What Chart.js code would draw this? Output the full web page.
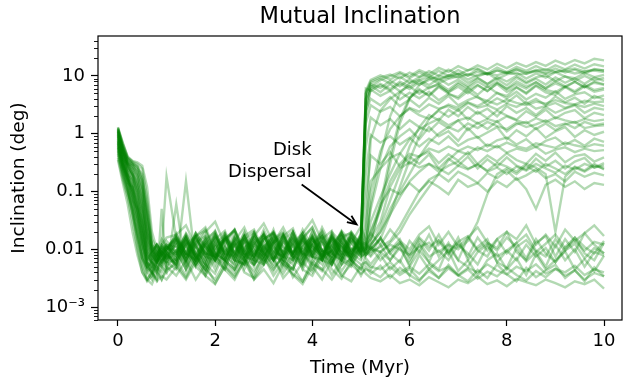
<!DOCTYPE html>
<html lang="en">
<head>
<meta charset="UTF-8">
<title>Mutual Inclination</title>
<script src="https://cdn.jsdelivr.net/npm/chart.js"></script>
<style>
  html, body { margin: 0; padding: 0; background: #fff; }
</style>
</head>
<body>
<canvas id="inclChart" width="624" height="384"></canvas>
<script>
// sample times (Myr), shared by every run
const times = [0, 0.1, 0.2, 0.3, 0.4, 0.5, 0.6, 0.7, 0.8, 0.9, 1.0,
  1.2, 1.4, 1.6, 1.8, 2.0, 2.2, 2.4, 2.6, 2.8, 3.0, 3.2, 3.4, 3.6, 3.8, 4.0, 4.2, 4.4, 4.6, 4.8, 5.0,
  5.1,
  5.2, 5.4, 5.6, 5.8, 6.0, 6.2, 6.4, 6.6, 6.8, 7.0, 7.2, 7.4, 7.6, 7.8, 8.0, 8.2, 8.4, 8.6, 8.8, 9.0, 9.2, 9.4, 9.6, 9.8, 10.0];

// runs that stay near 0.01 deg (or below) after dispersal
const lowRuns = [
  [0.9, 0.45, 0.22, 0.14, 0.07, 0.025, 0.009, 0.006, 0.008, 0.011, 0.009,
   0.014, 0.006, 0.016, 0.008, 0.02, 0.007, 0.012, 0.0055, 0.015, 0.009, 0.022, 0.0075, 0.013, 0.006, 0.017, 0.0085, 0.012, 0.0065, 0.018, 0.01,
   0.011,
   0.008, 0.016, 0.0085, 0.006, 0.014, 0.009, 0.018, 0.0075, 0.013, 0.0065, 0.016, 0.0095, 0.0075, 0.015, 0.02, 0.009, 0.0065, 0.013, 0.017, 0.0075, 0.015, 0.009, 0.019, 0.012, 0.0085],
  [1.1, 0.55, 0.3, 0.28, 0.2, 0.09, 0.015, 0.005, 0.004, 0.006, 0.008,
   0.006, 0.012, 0.005, 0.01, 0.016, 0.0065, 0.0045, 0.011, 0.014, 0.006, 0.009, 0.017, 0.007, 0.005, 0.012, 0.008, 0.015, 0.0055, 0.01, 0.013,
   0.008,
   0.011, 0.0065, 0.0095, 0.015, 0.0065, 0.012, 0.006, 0.014, 0.008, 0.016, 0.0065, 0.011, 0.015, 0.006, 0.0095, 0.013, 0.007, 0.015, 0.0085, 0.006, 0.011, 0.016, 0.0085, 0.0065, 0.013],
  [0.6, 0.28, 0.18, 0.09, 0.035, 0.012, 0.006, 0.009, 0.007, 0.012, 0.016,
   0.018, 0.026, 0.011, 0.02, 0.03, 0.012, 0.022, 0.01, 0.017, 0.028, 0.013, 0.024, 0.011, 0.019, 0.032, 0.014, 0.01, 0.021, 0.013, 0.025,
   0.014,
   0.019, 0.012, 0.022, 0.014, 0.01, 0.018, 0.025, 0.012, 0.02, 0.011, 0.016, 0.024, 0.013, 0.0105, 0.02, 0.015, 0.026, 0.012, 0.018, 0.011, 0.022, 0.014, 0.019, 0.026, 0.017],
  [0.75, 0.32, 0.16, 0.08, 0.03, 0.009, 0.004, 0.003, 0.005, 0.004, 0.006,
   0.0045, 0.009, 0.005, 0.0035, 0.011, 0.006, 0.004, 0.0095, 0.005, 0.012, 0.0065, 0.0038, 0.007, 0.01, 0.0045, 0.008, 0.0036, 0.0065, 0.005, 0.01,
   0.007,
   0.0055, 0.009, 0.0065, 0.012, 0.005, 0.0095, 0.006, 0.0045, 0.011, 0.0065, 0.005, 0.009, 0.012, 0.006, 0.0048, 0.0105, 0.0062, 0.009, 0.005, 0.012, 0.0065, 0.01, 0.005, 0.009, 0.0078],
  [1.3, 0.7, 0.4, 0.32, 0.28, 0.15, 0.03, 0.008, 0.012, 0.009, 0.014,
   0.009, 0.016, 0.007, 0.013, 0.021, 0.008, 0.014, 0.0065, 0.018, 0.011, 0.0065, 0.015, 0.02, 0.008, 0.016, 0.007, 0.012, 0.019, 0.0085, 0.014,
   0.012,
   0.01, 0.016, 0.0085, 0.013, 0.0075, 0.015, 0.0095, 0.018, 0.0085, 0.013, 0.0075, 0.016, 0.0095, 0.015, 0.0085, 0.013, 0.018, 0.0095, 0.0075, 0.015, 0.0095, 0.016, 0.011, 0.0085, 0.014],
  [0.45, 0.2, 0.1, 0.05, 0.015, 0.006, 0.003, 0.004, 0.003, 0.05, 0.004,
   0.0065, 0.0035, 0.008, 0.0045, 0.003, 0.006, 0.0095, 0.004, 0.0032, 0.007, 0.0042, 0.0085, 0.0033, 0.006, 0.004, 0.0095, 0.0045, 0.0031, 0.0065, 0.0045,
   0.006,
   0.0045, 0.008, 0.0045, 0.0065, 0.0035, 0.008, 0.0045, 0.0065, 0.0095, 0.0042, 0.0065, 0.0035, 0.0065, 0.0085, 0.0045, 0.007, 0.0036, 0.0082, 0.0045, 0.0065, 0.0092, 0.0045, 0.0068, 0.0042, 0.0078],
  [0.55, 0.25, 0.12, 0.04, 0.012, 0.005, 0.003, 0.0025, 0.004, 0.003, 0.005,
   0.0035, 0.0065, 0.003, 0.0055, 0.0026, 0.005, 0.0035, 0.007, 0.003, 0.0055, 0.0075, 0.0032, 0.005, 0.0028, 0.0065, 0.0045, 0.003, 0.0055, 0.0068, 0.0035,
   0.005,
   0.0038, 0.0052, 0.0032, 0.0048, 0.0036, 0.0028, 0.0047, 0.0032, 0.0054, 0.0036, 0.0028, 0.0044, 0.0032, 0.0055, 0.0037, 0.0028, 0.0048, 0.0033, 0.0043, 0.0054, 0.0032, 0.0044, 0.0028, 0.0049, 0.0034],
  [0.35, 0.14, 0.06, 0.02, 0.008, 0.004, 0.003, 0.004, 0.0028, 0.0035, 0.003,
   0.005, 0.003, 0.006, 0.0035, 0.0025, 0.0052, 0.0033, 0.0062, 0.003, 0.0045, 0.0026, 0.0055, 0.0036, 0.0025, 0.005, 0.003, 0.0065, 0.0035, 0.0028, 0.0052,
   0.0038,
   0.0032, 0.0028, 0.0036, 0.0026, 0.003, 0.0024, 0.0033, 0.0027, 0.0022, 0.003, 0.0026, 0.0034, 0.0025, 0.0029, 0.0023, 0.0031, 0.0027, 0.0024, 0.003, 0.0026, 0.0022, 0.0028, 0.0025, 0.003, 0.0021],
  [0.85, 0.38, 0.2, 0.11, 0.05, 0.018, 0.006, 0.004, 0.003, 0.005, 0.004,
   0.06, 0.0045, 0.009, 0.0035, 0.007, 0.011, 0.0045, 0.0075, 0.0035, 0.0095, 0.005, 0.0072, 0.012, 0.0045, 0.0035, 0.0075, 0.0095, 0.0042, 0.0075, 0.0055,
   0.006,
   0.005, 0.0045, 0.006, 0.004, 0.005, 0.0038, 0.0055, 0.0042, 0.005, 0.0036, 0.0048, 0.004, 0.0055, 0.0043, 0.0037, 0.005, 0.0042, 0.0055, 0.0038, 0.0046, 0.004, 0.0052, 0.0036, 0.0045, 0.004],
  [0.57, 0.26, 0.16, 0.1, 0.045, 0.014, 0.005, 0.0035, 0.006, 0.008, 0.005,
   0.0075, 0.013, 0.0055, 0.011, 0.0065, 0.016, 0.0075, 0.0055, 0.012, 0.0085, 0.0055, 0.014, 0.0075, 0.011, 0.017, 0.0065, 0.0095, 0.0055, 0.013, 0.0075,
   0.009,
   0.0075, 0.012, 0.0065, 0.0105, 0.0055, 0.013, 0.0075, 0.0095, 0.0065, 0.012, 0.0085, 0.0055, 0.0115, 0.0075, 0.0095, 0.0065, 0.012, 0.0075, 0.0105, 0.006, 0.0095, 0.0125, 0.007, 0.0105, 0.0085],
  [1.2, 0.6, 0.37, 0.3, 0.27, 0.2, 0.06, 0.012, 0.009, 0.015, 0.011,
   0.016, 0.0085, 0.019, 0.011, 0.0075, 0.015, 0.021, 0.0095, 0.013, 0.0075, 0.018, 0.011, 0.0085, 0.016, 0.024, 0.0095, 0.014, 0.0085, 0.019, 0.012,
   0.013,
   0.01, 0.015, 0.0095, 0.013, 0.0085, 0.016, 0.011, 0.0145, 0.009, 0.0135, 0.017, 0.01, 0.013, 0.0095, 0.016, 0.011, 0.0145, 0.009, 0.0125, 0.018, 0.0105, 0.014, 0.0095, 0.0135, 0.012],
  [0.38, 0.16, 0.08, 0.03, 0.01, 0.004, 0.0028, 0.0035, 0.005, 0.003, 0.0045,
   0.0055, 0.0032, 0.0068, 0.004, 0.0085, 0.0045, 0.003, 0.0065, 0.0042, 0.0075, 0.0035, 0.0062, 0.0038, 0.0028, 0.0058, 0.0042, 0.0072, 0.0035, 0.0055, 0.0038,
   0.0045,
   0.0042, 0.0033, 0.005, 0.0036, 0.0046, 0.003, 0.0042, 0.0032, 0.0047, 0.0035, 0.0045, 0.0031, 0.0041, 0.0034, 0.0048, 0.0036, 0.0029, 0.0042, 0.0033, 0.0046, 0.0035, 0.0043, 0.003, 0.0039, 0.0034]
];

// runs that settle around 0.1 - 0.4 deg
const quarterDegRuns = [
  [0.65, 0.3, 0.14, 0.12, 0.06, 0.03, 0.01, 0.007, 0.006, 0.009, 0.007,
   0.008, 0.016, 0.0065, 0.012, 0.0055, 0.015, 0.008, 0.019, 0.0065, 0.011, 0.017, 0.0075, 0.0055, 0.014, 0.01, 0.0065, 0.018, 0.008, 0.015, 0.0095,
   0.009,
   0.011, 0.009, 0.012, 0.01, 0.008, 0.011, 0.013, 0.009, 0.012, 0.01, 0.014, 0.03, 0.09, 0.2, 0.25, 0.2, 0.28, 0.22, 0.3, 0.25, 0.2, 0.27, 0.23, 0.3, 0.24],
  [0.95, 0.42, 0.25, 0.18, 0.1, 0.04, 0.012, 0.008, 0.006, 0.01, 0.012,
   0.0065, 0.014, 0.0085, 0.0055, 0.012, 0.019, 0.0075, 0.014, 0.0065, 0.017, 0.009, 0.0075, 0.02, 0.0065, 0.015, 0.0095, 0.0055, 0.016, 0.0075, 0.013,
   0.01,
   0.012, 0.02, 0.04, 0.08, 0.15, 0.22, 0.3, 0.25, 0.2, 0.28, 0.24, 0.3, 0.22, 0.26, 0.2, 0.27, 0.23, 0.3, 0.25, 0.21, 0.28, 0.24, 0.3, 0.26, 0.28],
  [0.7, 0.33, 0.2, 0.07, 0.025, 0.01, 0.005, 0.007, 0.009, 0.006, 0.008,
   0.012, 0.0055, 0.016, 0.0075, 0.0065, 0.014, 0.021, 0.0075, 0.011, 0.0055, 0.014, 0.019, 0.0075, 0.0065, 0.017, 0.0095, 0.0075, 0.019, 0.0065, 0.011,
   0.012,
   0.015, 0.03, 0.12, 0.25, 0.32, 0.26, 0.3, 0.22, 0.28, 0.33, 0.25, 0.29, 0.23, 0.31, 0.27, 0.22, 0.3, 0.26, 0.2, 0.02, 0.18, 0.26, 0.22, 0.28, 0.25],
  [1.05, 0.5, 0.3, 0.22, 0.15, 0.07, 0.02, 0.009, 0.012, 0.008, 0.01,
   0.016, 0.0075, 0.013, 0.022, 0.0085, 0.0065, 0.016, 0.0095, 0.02, 0.0075, 0.013, 0.018, 0.0085, 0.015, 0.024, 0.0095, 0.0075, 0.015, 0.02, 0.011,
   0.08,
   0.42, 0.3, 0.48, 0.27, 0.4, 0.3, 0.44, 0.25, 0.37, 0.28, 0.4, 0.25, 0.36, 0.27, 0.39, 0.28, 0.24, 0.37, 0.27, 0.34, 0.25, 0.33, 0.38, 0.26, 0.31],
  [0.5, 0.22, 0.11, 0.05, 0.02, 0.007, 0.004, 0.005, 0.008, 0.006, 0.009,
   0.005, 0.011, 0.0055, 0.014, 0.0075, 0.0045, 0.013, 0.0065, 0.0055, 0.011, 0.016, 0.0065, 0.0045, 0.013, 0.007, 0.015, 0.0055, 0.011, 0.0065, 0.012,
   0.008,
   0.009, 0.011, 0.014, 0.025, 0.05, 0.1, 0.16, 0.2, 0.15, 0.22, 0.18, 0.14, 0.21, 0.17, 0.23, 0.16, 0.19, 0.24, 0.17, 0.2, 0.15, 0.22, 0.18, 0.21, 0.19],
  [0.8, 0.36, 0.3, 0.2, 0.12, 0.05, 0.016, 0.01, 0.007, 0.009, 0.006,
   0.014, 0.0065, 0.012, 0.0045, 0.0095, 0.016, 0.0065, 0.0055, 0.012, 0.018, 0.0075, 0.0065, 0.014, 0.0055, 0.012, 0.017, 0.0065, 0.013, 0.0055, 0.0095,
   0.01,
   0.02, 0.06, 0.11, 0.09, 0.14, 0.1, 0.15, 0.12, 0.09, 0.16, 0.12, 0.14, 0.1, 0.15, 0.12, 0.17, 0.11, 0.05, 0.13, 0.16, 0.12, 0.15, 0.11, 0.14, 0.13],
  [1.15, 0.52, 0.28, 0.2, 0.09, 0.03, 0.008, 0.006, 0.009, 0.007, 0.011,
   0.0075, 0.016, 0.0065, 0.012, 0.018, 0.0075, 0.0055, 0.014, 0.011, 0.0065, 0.016, 0.0085, 0.02, 0.0075, 0.013, 0.0065, 0.016, 0.0095, 0.018, 0.0075,
   0.03,
   0.15, 0.25, 0.38, 0.46, 0.3, 0.41, 0.49, 0.31, 0.44, 0.34, 0.48, 0.3, 0.42, 0.33, 0.46, 0.35, 0.3, 0.45, 0.34, 0.47, 0.32, 0.41, 0.44, 0.33, 0.39]
];

// runs that settle around 0.5 - 3 deg
const degRuns = [
  [0.62, 0.27, 0.15, 0.06, 0.03, 0.012, 0.005, 0.004, 0.006, 0.009, 0.007,
   0.0055, 0.013, 0.0075, 0.0045, 0.011, 0.015, 0.0065, 0.0055, 0.013, 0.0085, 0.0045, 0.0075, 0.015, 0.0085, 0.0055, 0.013, 0.0065, 0.017, 0.0085, 0.0065,
   0.01,
   0.02, 0.05, 0.15, 0.3, 0.45, 0.4, 0.55, 0.48, 0.6, 0.5, 0.44, 0.58, 0.5, 0.62, 0.47, 0.55, 0.5, 0.6, 0.45, 0.53, 0.58, 0.48, 0.55, 0.5, 0.52],
  [1.0, 0.48, 0.33, 0.3, 0.22, 0.12, 0.04, 0.012, 0.009, 0.007, 0.01,
   0.015, 0.0075, 0.019, 0.011, 0.0065, 0.015, 0.022, 0.0085, 0.0075, 0.018, 0.011, 0.0065, 0.016, 0.0085, 0.02, 0.0075, 0.015, 0.011, 0.0075, 0.018,
   0.2,
   0.95, 0.7, 0.9, 0.65, 0.85, 0.6, 0.82, 0.66, 0.9, 0.62, 0.78, 0.88, 0.6, 0.77, 0.86, 0.65, 0.8, 0.58, 0.75, 0.86, 0.64, 0.78, 0.62, 0.82, 0.72],
  [0.42, 0.18, 0.09, 0.04, 0.016, 0.007, 0.005, 0.006, 0.004, 0.007, 0.006,
   0.0095, 0.0045, 0.011, 0.0055, 0.0038, 0.0095, 0.013, 0.0045, 0.0095, 0.0055, 0.012, 0.0045, 0.0085, 0.014, 0.0055, 0.0045, 0.011, 0.0075, 0.0055, 0.012,
   0.008,
   0.01, 0.009, 0.013, 0.02, 0.04, 0.07, 0.12, 0.2, 0.35, 0.5, 0.6, 0.52, 0.65, 0.58, 0.7, 0.6, 0.55, 0.68, 0.62, 0.57, 0.7, 0.63, 0.58, 0.66, 0.62],
  [0.88, 0.4, 0.2, 0.16, 0.08, 0.03, 0.009, 0.007, 0.012, 0.01, 0.18,
   0.015, 0.0075, 0.013, 0.0065, 0.016, 0.0085, 0.019, 0.0075, 0.013, 0.018, 0.0065, 0.0095, 0.016, 0.0075, 0.013, 0.02, 0.0085, 0.0065, 0.015, 0.0095,
   0.012,
   0.05, 0.25, 0.6, 0.9, 1.2, 0.8, 1.3, 0.9, 1.1, 0.75, 1.25, 0.85, 1.05, 1.3, 0.8, 1.15, 0.9, 1.25, 0.85, 1.1, 1.3, 0.88, 1.15, 0.95, 1.08],
  [1.25, 0.65, 0.38, 0.33, 0.3, 0.25, 0.08, 0.015, 0.01, 0.008, 0.012,
   0.0085, 0.019, 0.011, 0.0075, 0.017, 0.0085, 0.014, 0.024, 0.0095, 0.0075, 0.015, 0.02, 0.0085, 0.017, 0.011, 0.0075, 0.02, 0.013, 0.0085, 0.017,
   0.6,
   1.9, 1.4, 1.8, 1.2, 1.7, 1.3, 1.1, 1.6, 1.25, 1.7, 1.15, 1.55, 1.2, 1.65, 1.1, 1.45, 1.6, 1.2, 1.5, 1.15, 1.45, 1.6, 1.25, 1.35, 1.4],
  [0.58, 0.26, 0.13, 0.07, 0.05, 0.02, 0.008, 0.005, 0.007, 0.005, 0.008,
   0.0055, 0.014, 0.0075, 0.0045, 0.013, 0.0065, 0.016, 0.0085, 0.0055, 0.013, 0.0065, 0.015, 0.0085, 0.0055, 0.013, 0.017, 0.0065, 0.012, 0.0075, 0.014,
   0.01,
   0.03, 0.08, 0.2, 0.45, 0.8, 1.2, 1.5, 1.8, 1.4, 1.7, 1.9, 1.5, 1.8, 1.6, 2.0, 1.7, 1.5, 1.85, 1.6, 1.9, 1.7, 1.55, 1.8, 1.65, 1.75],
  [1.18, 0.58, 0.34, 0.25, 0.18, 0.1, 0.025, 0.01, 0.008, 0.011, 0.009,
   0.014, 0.0065, 0.016, 0.0085, 0.0075, 0.018, 0.0085, 0.0065, 0.016, 0.011, 0.0075, 0.018, 0.0085, 0.022, 0.011, 0.0075, 0.016, 0.0085, 0.02, 0.012,
   1.5,
   3.1, 2.4, 2.9, 2.0, 2.7, 2.1, 1.8, 2.5, 1.95, 2.6, 1.75, 2.4, 1.85, 2.5, 2.05, 1.75, 2.45, 1.95, 2.6, 1.85, 2.3, 2.55, 1.85, 2.3, 2.1],
  [0.68, 0.3, 0.17, 0.1, 0.04, 0.015, 0.007, 0.006, 0.005, 0.007, 0.009,
   0.005, 0.15, 0.0055, 0.013, 0.0065, 0.0045, 0.012, 0.015, 0.0065, 0.0055, 0.013, 0.0065, 0.0045, 0.012, 0.016, 0.0065, 0.0055, 0.014, 0.0065, 0.011,
   0.009,
   0.012, 0.02, 0.05, 0.1, 0.2, 0.4, 0.7, 1.0, 1.3, 1.1, 1.5, 1.25, 1.6, 1.35, 1.2, 1.55, 1.3, 1.45, 1.7, 1.35, 1.5, 1.25, 1.6, 1.4, 1.5],
  [0.48, 0.21, 0.1, 0.045, 0.018, 0.007, 0.0045, 0.006, 0.0045, 0.0065, 0.008,
   0.0065, 0.012, 0.0055, 0.0095, 0.0045, 0.011, 0.0065, 0.014, 0.0055, 0.0085, 0.013, 0.0055, 0.0045, 0.011, 0.0075, 0.0055, 0.013, 0.0065, 0.0105, 0.0075,
   0.0085,
   0.011, 0.025, 0.07, 0.2, 0.6, 1.3, 2.1, 1.7, 2.6, 2.0, 2.9, 2.2, 2.7, 2.0, 3.0, 2.3, 2.8, 2.1, 2.9, 2.3, 2.7, 3.1, 2.3, 2.8, 2.6]
];

// runs that settle around 3 - 6 deg
const fewDegRuns = [
  [0.78, 0.34, 0.19, 0.13, 0.06, 0.022, 0.007, 0.009, 0.006, 0.008, 0.007,
   0.012, 0.0055, 0.013, 0.017, 0.0065, 0.012, 0.0055, 0.015, 0.0075, 0.019, 0.0065, 0.013, 0.0075, 0.0055, 0.015, 0.0075, 0.017, 0.0065, 0.013, 0.0085,
   0.011,
   0.1, 0.5, 1.2, 2.0, 2.8, 2.4, 3.2, 2.7, 3.0, 2.5, 3.4, 2.8, 3.1, 2.6, 3.3, 2.9, 3.5, 2.7, 3.0, 3.4, 2.8, 3.2, 2.9, 3.3, 3.0],
  [1.22, 0.62, 0.36, 0.31, 0.26, 0.18, 0.05, 0.012, 0.008, 0.01, 0.007,
   0.016, 0.0085, 0.0065, 0.015, 0.02, 0.0085, 0.0075, 0.017, 0.0085, 0.0065, 0.019, 0.0095, 0.0075, 0.017, 0.0085, 0.021, 0.0095, 0.0075, 0.016, 0.0085,
   3.0,
   5.8, 4.5, 5.5, 3.9, 5.1, 4.1, 5.3, 3.8, 4.9, 4.0, 5.4, 4.2, 3.7, 5.1, 4.1, 5.3, 3.9, 4.9, 4.2, 5.4, 4.0, 4.8, 5.2, 4.1, 4.6],
  [0.92, 0.44, 0.24, 0.19, 0.11, 0.04, 0.011, 0.007, 0.01, 0.008, 0.006,
   0.0065, 0.016, 0.0075, 0.0055, 0.015, 0.0085, 0.0065, 0.017, 0.0075, 0.015, 0.02, 0.0075, 0.0065, 0.015, 0.0075, 0.017, 0.0085, 0.0065, 0.015, 0.0085,
   0.02,
   0.8, 2.5, 4.0, 5.3, 4.1, 5.9, 4.5, 6.4, 4.9, 4.3, 6.2, 4.7, 6.6, 5.0, 4.5, 6.3, 4.9, 6.7, 5.2, 4.7, 6.4, 5.1, 6.6, 5.3, 5.8],
  [0.72, 0.31, 0.17, 0.12, 0.05, 0.018, 0.006, 0.004, 0.006, 0.008, 0.01,
   0.018, 0.0085, 0.0065, 0.016, 0.0075, 0.015, 0.022, 0.0085, 0.0065, 0.015, 0.0075, 0.018, 0.0085, 0.016, 0.0075, 0.0065, 0.017, 0.0095, 0.0085, 0.019,
   4.0,
   6.8, 5.2, 7.2, 5.4, 6.6, 4.9, 6.3, 7.0, 5.2, 6.5, 5.0, 6.8, 5.5, 7.2, 5.3, 6.4, 5.1, 6.9, 5.7, 5.2, 6.6, 5.4, 7.0, 5.7, 6.2],
  [0.52, 0.23, 0.12, 0.055, 0.02, 0.008, 0.005, 0.004, 0.006, 0.005, 0.007,
   0.0095, 0.0045, 0.012, 0.0055, 0.013, 0.0065, 0.0045, 0.012, 0.0055, 0.0095, 0.015, 0.0055, 0.012, 0.0045, 0.0095, 0.014, 0.0055, 0.012, 0.0065, 0.0045,
   0.008,
   0.01, 0.015, 0.04, 0.12, 0.35, 0.9, 1.8, 2.6, 3.2, 2.8, 3.5, 3.0, 3.7, 3.2, 3.9, 3.4, 3.1, 3.6, 3.3, 3.8, 3.4, 3.2, 3.7, 3.5, 3.6],
  [1.15, 0.56, 0.35, 0.29, 0.24, 0.16, 0.045, 0.01, 0.007, 0.009, 0.012,
   0.011, 0.0065, 0.015, 0.0085, 0.018, 0.0075, 0.012, 0.0065, 0.016, 0.0095, 0.0065, 0.014, 0.0085, 0.019, 0.0075, 0.013, 0.0085, 0.017, 0.0095, 0.012,
   2.5,
   4.0, 3.1, 4.3, 3.0, 3.9, 2.9, 4.2, 3.3, 4.5, 3.1, 3.8, 4.4, 3.2, 4.1, 3.4, 4.6, 3.3, 4.0, 3.1, 4.4, 3.5, 4.2, 3.3, 4.5, 3.9]
];

// runs that end up near 10 deg or higher
const tenDegRuns = [
  [1.08, 0.5, 0.3, 0.24, 0.16, 0.06, 0.018, 0.008, 0.006, 0.009, 0.008,
   0.013, 0.0065, 0.018, 0.0085, 0.0075, 0.017, 0.0065, 0.015, 0.02, 0.0075, 0.013, 0.017, 0.0065, 0.015, 0.0085, 0.019, 0.0075, 0.015, 0.0065, 0.017,
   2.0,
   6.0, 7.3, 5.9, 7.9, 6.5, 8.4, 6.9, 9.0, 7.0, 8.6, 6.7, 9.0, 7.2, 8.8, 6.9, 9.3, 7.4, 8.9, 7.1, 9.4, 7.6, 9.1, 7.3, 9.3, 8.2],
  [0.98, 0.46, 0.27, 0.2, 0.13, 0.06, 0.014, 0.009, 0.012, 0.008, 0.011,
   0.0075, 0.017, 0.0085, 0.0065, 0.018, 0.0095, 0.0075, 0.017, 0.0085, 0.022, 0.0095, 0.0075, 0.018, 0.0085, 0.016, 0.0075, 0.0095, 0.02, 0.0085, 0.015,
   5.0,
   7.5, 8.9, 7.4, 9.7, 7.6, 9.5, 10.4, 8.2, 10.0, 10.8, 8.6, 10.4, 11.1, 8.8, 10.6, 11.4, 9.0, 11.0, 9.3, 11.6, 9.7, 9.1, 11.2, 9.5, 10.4],
  [0.82, 0.37, 0.21, 0.15, 0.07, 0.025, 0.008, 0.006, 0.008, 0.006, 0.009,
   0.0065, 0.015, 0.0075, 0.017, 0.0085, 0.0065, 0.015, 0.0075, 0.019, 0.0085, 0.0065, 0.017, 0.0075, 0.015, 0.0085, 0.0065, 0.019, 0.0085, 0.0075, 0.017,
   0.012,
   0.06, 0.4, 2.0, 5.0, 7.5, 8.5, 9.5, 8.8, 10.2, 9.4, 10.8, 9.8, 11.2, 10.2, 11.5, 10.6, 11.0, 12.0, 10.8, 11.6, 12.2, 11.0, 11.8, 12.4, 11.6],
  [1.12, 0.54, 0.32, 0.27, 0.22, 0.14, 0.035, 0.011, 0.008, 0.012, 0.01,
   0.015, 0.0075, 0.017, 0.021, 0.0085, 0.0065, 0.017, 0.0095, 0.0075, 0.019, 0.0085, 0.017, 0.023, 0.0085, 0.0075, 0.017, 0.0095, 0.019, 0.0085, 0.016,
   4.0,
   7.2, 6.2, 8.2, 6.6, 8.7, 7.0, 9.1, 7.4, 8.9, 9.8, 7.6, 9.3, 7.2, 9.6, 8.0, 10.0, 7.8, 9.4, 10.2, 8.1, 9.8, 8.2, 10.0, 8.4, 9.2],
  [0.66, 0.29, 0.16, 0.08, 0.035, 0.012, 0.006, 0.005, 0.007, 0.01, 0.008,
   0.0055, 0.012, 0.017, 0.0065, 0.013, 0.0055, 0.015, 0.0075, 0.0065, 0.017, 0.0085, 0.0055, 0.013, 0.019, 0.0075, 0.0065, 0.015, 0.0075, 0.017, 0.0085,
   0.01,
   0.015, 0.05, 0.3, 1.5, 4.0, 7.0, 8.5, 10.0, 9.2, 11.0, 10.0, 11.8, 10.6, 12.4, 11.2, 12.8, 11.5, 12.2, 13.0, 11.8, 12.6, 13.4, 12.0, 12.8, 12.5],
  [0.94, 0.42, 0.26, 0.17, 0.1, 0.045, 0.013, 0.008, 0.006, 0.009, 0.011,
   0.0085, 0.018, 0.0075, 0.015, 0.0065, 0.017, 0.0085, 0.02, 0.0075, 0.015, 0.019, 0.0085, 0.0065, 0.017, 0.0085, 0.015, 0.021, 0.0075, 0.017, 0.0095,
   6.0,
   5.5, 6.9, 5.5, 7.4, 5.9, 7.8, 6.1, 7.4, 5.7, 7.7, 6.2, 8.0, 6.4, 7.8, 6.0, 8.0, 6.5, 7.7, 6.1, 8.2, 6.6, 7.9, 6.3, 8.0, 7.1],
  [1.28, 0.68, 0.4, 0.34, 0.32, 0.28, 0.12, 0.02, 0.01, 0.008, 0.01,
   0.017, 0.0085, 0.019, 0.0075, 0.015, 0.021, 0.0085, 0.017, 0.0075, 0.015, 0.019, 0.0085, 0.017, 0.0075, 0.021, 0.0095, 0.0085, 0.017, 0.019, 0.0085,
   5.0,
   8.0, 9.4, 10.5, 9.0, 11.4, 9.6, 12.1, 10.1, 12.8, 10.5, 12.6, 13.4, 11.0, 13.9, 11.6, 14.3, 12.2, 14.7, 12.4, 15.2, 13.0, 15.7, 13.4, 15.9, 14.6],
  [1.02, 0.47, 0.28, 0.21, 0.14, 0.08, 0.02, 0.01, 0.007, 0.012, 0.009,
   0.019, 0.0085, 0.017, 0.024, 0.0095, 0.019, 0.0085, 0.017, 0.022, 0.0095, 0.02, 0.011, 0.0085, 0.019, 0.0095, 0.024, 0.011, 0.02, 0.0095, 0.018,
   3.0,
   6.5, 8.4, 9.9, 11.6, 9.8, 12.6, 10.7, 13.7, 11.7, 14.7, 12.4, 15.2, 12.9, 16.2, 13.6, 16.8, 14.4, 17.3, 14.9, 18.3, 15.8, 18.8, 16.4, 19.8, 18.5],
  [1.08, 0.52, 0.31, 0.25, 0.19, 0.11, 0.03, 0.0095, 0.012, 0.0085, 0.011,
   0.0095, 0.018, 0.0085, 0.013, 0.0075, 0.016, 0.011, 0.0075, 0.019, 0.0095, 0.014, 0.0085, 0.02, 0.0095, 0.015, 0.0085, 0.017, 0.011, 0.0075, 0.016,
   5.5,
   8.5, 10.2, 8.6, 11.0, 9.1, 11.6, 9.5, 12.2, 10.0, 12.6, 10.2, 12.9, 10.6, 12.4, 11.0, 13.1, 10.8, 12.7, 11.2, 13.4, 11.4, 12.8, 11.0, 13.2, 12.3],
  [0.74, 0.33, 0.18, 0.11, 0.05, 0.016, 0.006, 0.0045, 0.007, 0.0055, 0.0085,
   0.0085, 0.0145, 0.0065, 0.012, 0.0075, 0.0055, 0.013, 0.0085, 0.016, 0.0065, 0.011, 0.0075, 0.015, 0.0065, 0.012, 0.0085, 0.0055, 0.014, 0.0075, 0.011,
   0.01,
   0.013, 0.06, 0.4, 1.8, 4.2, 5.6, 4.6, 6.7, 5.2, 7.2, 5.6, 7.0, 5.4, 7.5, 5.9, 7.2, 6.0, 7.8, 6.1, 7.4, 6.3, 7.9, 6.4, 7.6, 7.0]
];

const xTicks = [0, 2, 4, 6, 8, 10];
const yTicks = [0.001, 0.01, 0.1, 1, 10];
const yTickLabels = ['10⁻³', '0.01', '0.1', '1', '10'];

// annotation: text anchor (right edge, baselines) and arrow, in data units
const noteText = ['Disk', 'Dispersal'];
const noteX = 3.985;
const noteBaselines = [0.434, 0.181];
const arrowFrom = { x: 3.78, y: 0.132 };
const arrowTo = { x: 4.91, y: 0.027 };

const FONT = "'DejaVu Sans', sans-serif";
const LINE_COLOR = 'rgba(0, 128, 0, 0.3)';

const allRuns = [].concat(lowRuns, quarterDegRuns, degRuns, fewDegRuns, tenDegRuns);
const datasets = allRuns.map(run => ({
    data: run.map((v, i) => ({ x: times[i], y: v })),
    borderColor: LINE_COLOR,
    borderWidth: 2.4,
    pointRadius: 0,
    pointHoverRadius: 0,
    fill: false,
    tension: 0
}));

// box around the axes, minor log ticks and the "Disk Dispersal" note
const extrasPlugin = {
    id: 'extras',
    afterDraw(chart) {
        const { ctx, chartArea: a, scales: { x, y } } = chart;
        ctx.save();
        ctx.strokeStyle = '#000';
        ctx.lineWidth = 1.2;
        ctx.strokeRect(a.left, a.top, a.right - a.left, a.bottom - a.top);

        ctx.lineWidth = 0.9;
        for (let d = -4; d <= 1; d++) {
            for (let k = 2; k <= 9; k++) {
                const v = k * Math.pow(10, d);
                if (v < y.min || v > y.max) continue;
                const py = Math.round(y.getPixelForValue(v)) + 0.5;
                ctx.beginPath();
                ctx.moveTo(a.left - 4, py);
                ctx.lineTo(a.left, py);
                ctx.stroke();
            }
        }

        ctx.fillStyle = '#000';
        ctx.font = '18px ' + FONT;
        ctx.textAlign = 'right';
        ctx.textBaseline = 'alphabetic';
        noteText.forEach((t, i) => {
            ctx.fillText(t, x.getPixelForValue(noteX), y.getPixelForValue(noteBaselines[i]));
        });

        const x0 = x.getPixelForValue(arrowFrom.x), y0 = y.getPixelForValue(arrowFrom.y);
        const x1 = x.getPixelForValue(arrowTo.x), y1 = y.getPixelForValue(arrowTo.y);
        const ang = Math.atan2(y1 - y0, x1 - x0);
        ctx.lineWidth = 1.8;
        ctx.beginPath();
        ctx.moveTo(x0, y0);
        ctx.lineTo(x1, y1);
        ctx.moveTo(x1 - 10 * Math.cos(ang - 0.4), y1 - 10 * Math.sin(ang - 0.4));
        ctx.lineTo(x1, y1);
        ctx.lineTo(x1 - 10 * Math.cos(ang + 0.4), y1 - 10 * Math.sin(ang + 0.4));
        ctx.stroke();
        ctx.restore();
    }
};

new Chart(document.getElementById('inclChart'), {
    type: 'line',
    data: { datasets: datasets },
    options: {
        responsive: false,
        devicePixelRatio: 1,
        animation: false,
        events: [],
        layout: { padding: { left: 0, right: 2, top: 0, bottom: 0 } },
        plugins: { legend: { display: false }, tooltip: { enabled: false }, title: { display: false } },
        scales: {
            x: {
                type: 'linear',
                position: 'bottom',
                min: -0.41,
                max: 10.37,
                afterBuildTicks: s => { s.ticks = xTicks.map(v => ({ value: v })); },
                afterFit: s => { s.height = 64; },
                ticks: { color: '#000', font: { family: FONT, size: 18 }, padding: 5, maxRotation: 0, autoSkip: false,
                         callback: v => String(v) },
                grid: { drawOnChartArea: false, drawTicks: true, tickLength: 6, tickColor: '#000', tickWidth: 1.2 },
                border: { display: false },
                title: { display: true, text: 'Time (Myr)', color: '#000', font: { family: FONT, size: 18.5 },
                         padding: { top: 0, bottom: 5 } }
            },
            xTop: {
                type: 'linear',
                axis: 'x',
                position: 'top',
                min: -0.41,
                max: 10.37,
                afterFit: s => { s.height = 36; },
                ticks: { display: false },
                grid: { display: false },
                border: { display: false },
                title: { display: true, text: 'Mutual Inclination', color: '#000', font: { family: FONT, size: 22.5 },
                         padding: { top: 4, bottom: 0 } }
            },
            y: {
                type: 'logarithmic',
                position: 'left',
                min: 6.2e-4,
                max: 48.9,
                afterBuildTicks: s => { s.ticks = yTicks.map(v => ({ value: v })); },
                afterFit: s => { s.width = 98; },
                ticks: { color: '#000', font: { family: FONT, size: 18 }, padding: 6, autoSkip: false,
                         callback: (v, i) => yTickLabels[i] },
                grid: { drawOnChartArea: false, drawTicks: true, tickLength: 7, tickColor: '#000', tickWidth: 1.2 },
                border: { display: false },
                title: { display: true, text: 'Inclination (deg)', color: '#000', font: { family: FONT, size: 18.5 },
                         padding: { top: 8, bottom: 0 } }
            }
        }
    },
    plugins: [extrasPlugin]
});
</script>
</body>
</html>
